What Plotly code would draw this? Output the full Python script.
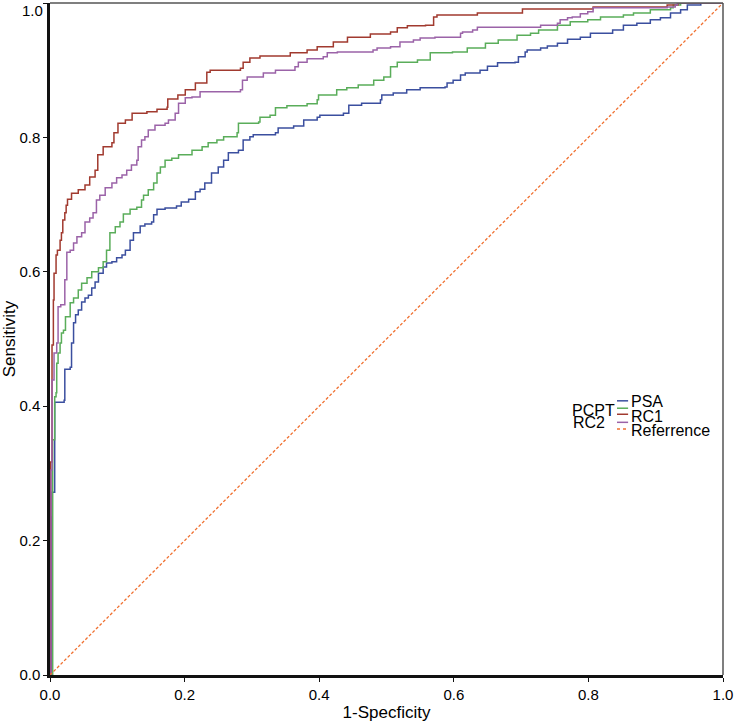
import plotly.graph_objects as go

# ---------------- data ----------------
psa_x = [0, 0.002, 0.003, 0.007, 0.021, 0.022, 0.030, 0.032, 0.035, 0.038, 0.042, 0.047, 0.052, 0.057,
         0.062, 0.067, 0.072, 0.079, 0.084, 0.092, 0.099, 0.107, 0.112, 0.119, 0.124, 0.134, 0.141,
         0.151, 0.154, 0.159, 0.171, 0.188, 0.195, 0.206, 0.216, 0.223, 0.230, 0.240, 0.250, 0.258,
         0.265, 0.280, 0.287, 0.297, 0.302, 0.335, 0.339, 0.362, 0.377, 0.397, 0.401, 0.436, 0.444,
         0.463, 0.491, 0.493, 0.510, 0.530, 0.550, 0.587, 0.590, 0.599, 0.610, 0.617, 0.639, 0.650,
         0.665, 0.691, 0.696, 0.706, 0.709, 0.729, 0.739, 0.754, 0.769, 0.788, 0.803, 0.836, 0.852,
         0.872, 0.892, 0.907, 0.922, 0.937, 0.947, 0.967, 1.0]
psa_y = [0, 0.235, 0.272, 0.406, 0.409, 0.455, 0.458, 0.494, 0.524, 0.536, 0.543, 0.555, 0.561, 0.565,
         0.576, 0.585, 0.598, 0.607, 0.613, 0.615, 0.621, 0.625, 0.632, 0.647, 0.658, 0.668, 0.671,
         0.674, 0.685, 0.693, 0.695, 0.698, 0.704, 0.708, 0.719, 0.723, 0.732, 0.747, 0.756, 0.766,
         0.777, 0.781, 0.796, 0.801, 0.804, 0.807, 0.814, 0.817, 0.826, 0.830, 0.833, 0.836, 0.848,
         0.851, 0.856, 0.863, 0.866, 0.871, 0.874, 0.875, 0.881, 0.885, 0.893, 0.896, 0.900, 0.906,
         0.911, 0.912, 0.920, 0.927, 0.930, 0.933, 0.936, 0.940, 0.946, 0.949, 0.955, 0.960, 0.967,
         0.970, 0.975, 0.978, 0.985, 0.990, 0.997, 1.0, 1.0]

pcpt_x = [0, 0.004, 0.007, 0.009, 0.010, 0.012, 0.015, 0.017, 0.020, 0.023, 0.030, 0.035, 0.042, 0.047,
          0.055, 0.062, 0.072, 0.079, 0.084, 0.089, 0.097, 0.104, 0.109, 0.119, 0.129, 0.136, 0.139,
          0.146, 0.154, 0.159, 0.164, 0.171, 0.181, 0.191, 0.211, 0.226, 0.235, 0.248, 0.258, 0.278,
          0.280, 0.310, 0.312, 0.327, 0.335, 0.352, 0.382, 0.397, 0.399, 0.426, 0.441, 0.458, 0.481,
          0.496, 0.506, 0.516, 0.546, 0.565, 0.598, 0.620, 0.647, 0.666, 0.694, 0.714, 0.726, 0.754,
          0.773, 0.799, 0.818, 0.852, 0.867, 0.892, 0.922, 0.926, 0.937, 1.0]
pcpt_y = [0, 0.350, 0.414, 0.420, 0.464, 0.479, 0.494, 0.509, 0.513, 0.533, 0.554, 0.561, 0.573, 0.583,
          0.591, 0.600, 0.606, 0.615, 0.632, 0.658, 0.667, 0.674, 0.686, 0.693, 0.696, 0.707, 0.714,
          0.722, 0.732, 0.747, 0.756, 0.766, 0.769, 0.774, 0.781, 0.786, 0.792, 0.796, 0.801, 0.807,
          0.821, 0.823, 0.830, 0.833, 0.844, 0.847, 0.850, 0.856, 0.863, 0.871, 0.874, 0.878, 0.885,
          0.890, 0.905, 0.912, 0.915, 0.926, 0.927, 0.933, 0.940, 0.945, 0.952, 0.955, 0.960, 0.967,
          0.972, 0.975, 0.979, 0.982, 0.985, 0.990, 0.993, 0.997, 1.0, 1.0]

rc1_x = [0, 0.001, 0.003, 0.005, 0.006, 0.009, 0.011, 0.015, 0.017, 0.019, 0.022, 0.024, 0.026, 0.032,
         0.042, 0.052, 0.059, 0.067, 0.071, 0.079, 0.092, 0.095, 0.101, 0.112, 0.122, 0.144, 0.159,
         0.174, 0.175, 0.190, 0.201, 0.216, 0.233, 0.238, 0.283, 0.287, 0.297, 0.312, 0.357, 0.382,
         0.397, 0.421, 0.442, 0.476, 0.506, 0.516, 0.531, 0.558, 0.570, 0.575, 0.635, 0.702, 0.807,
         0.917, 0.933, 1.0]
rc1_y = [0, 0.317, 0.491, 0.558, 0.598, 0.625, 0.632, 0.647, 0.658, 0.677, 0.688, 0.699, 0.708, 0.717,
         0.722, 0.729, 0.741, 0.751, 0.774, 0.786, 0.792, 0.807, 0.821, 0.826, 0.836, 0.838, 0.842,
         0.845, 0.857, 0.863, 0.871, 0.881, 0.897, 0.900, 0.903, 0.912, 0.918, 0.921, 0.926, 0.930,
         0.935, 0.942, 0.949, 0.954, 0.957, 0.963, 0.966, 0.967, 0.979, 0.982, 0.985, 0.991, 0.994,
         0.997, 1.0, 1.0]

rc2_x = [0, 0.0015, 0.003, 0.006, 0.010, 0.012, 0.016, 0.022, 0.025, 0.030, 0.035, 0.040, 0.047, 0.052,
         0.059, 0.064, 0.069, 0.074, 0.082, 0.092, 0.099, 0.107, 0.114, 0.121, 0.129, 0.131, 0.136,
         0.141, 0.146, 0.156, 0.171, 0.176, 0.186, 0.191, 0.201, 0.211, 0.223, 0.283, 0.286, 0.293,
         0.317, 0.335, 0.364, 0.369, 0.382, 0.406, 0.412, 0.427, 0.480, 0.486, 0.506, 0.520, 0.540,
         0.550, 0.572, 0.610, 0.613, 0.628, 0.635, 0.724, 0.729, 0.754, 0.758, 0.769, 0.776, 0.788,
         0.799, 0.807, 0.917, 0.929, 0.932, 1.0]
rc2_y = [0, 0.305, 0.439, 0.479, 0.494, 0.548, 0.551, 0.588, 0.629, 0.632, 0.643, 0.652, 0.658, 0.674,
         0.680, 0.688, 0.707, 0.714, 0.725, 0.732, 0.740, 0.744, 0.751, 0.759, 0.766, 0.786, 0.796,
         0.801, 0.811, 0.818, 0.821, 0.826, 0.836, 0.851, 0.859, 0.860, 0.868, 0.871, 0.885, 0.890,
         0.896, 0.900, 0.905, 0.912, 0.917, 0.920, 0.926, 0.927, 0.930, 0.933, 0.935, 0.942, 0.945,
         0.948, 0.949, 0.955, 0.957, 0.960, 0.964, 0.964, 0.967, 0.970, 0.975, 0.978, 0.979, 0.984,
         0.987, 0.993, 0.994, 0.997, 1.0, 1.0]

ref_x = [0, 1]
ref_y = [0, 1]

series_names = ["PSA", "PCPT", "RC1", "RC2", "Referrence"]
tick_vals = [0.0, 0.2, 0.4, 0.6, 0.8, 1.0]
x_tick_text = ["0.0", "0.2", "0.4", "0.6", "0.8", "1.0"]
y_tick_text = ["0.0", "0.2", "0.4", "0.6", "0.8", ""]   # top label drawn separately (kept inside page)
y_top_label = "1.0"

# ---------------- styles ----------------
COL = {"PSA": "#3b4f9f", "PCPT": "#5aad5a", "RC1": "#a13a2f",
       "RC2": "#9b63a8", "Referrence": "#f07030"}
FONT = "Liberation Sans, Arial, sans-serif"
TICKFONT = dict(family=FONT, size=15, color="#000")
TITLEFONT = dict(family=FONT, size=17, color="#000")

fig = go.Figure()
for name, xs, ys in [("PSA", psa_x, psa_y), ("PCPT", pcpt_x, pcpt_y),
                     ("RC1", rc1_x, rc1_y), ("RC2", rc2_x, rc2_y)]:
    fig.add_trace(go.Scatter(x=xs, y=ys, mode="lines", name=name, line_shape="hv",
                             line=dict(color=COL[name], width=1.5), showlegend=False,
                             hoverinfo="x+y+name"))
fig.add_trace(go.Scatter(x=ref_x, y=ref_y, mode="lines", name="Referrence",
                         line=dict(color=COL["Referrence"], width=1.3, dash="3px,2px"),
                         showlegend=False))

axis_common = dict(range=[0, 1], tickvals=tick_vals, showgrid=False, automargin=False,
                   zeroline=False, showline=True, linecolor="#111", linewidth=2.5,
                   ticks="outside", ticklen=4, tickwidth=1, tickcolor="#111",
                   tickfont=TICKFONT, layer="above traces")
fig.update_xaxes(**axis_common, ticktext=x_tick_text,
                 title=dict(text="1-Specficity", standoff=8, font=TITLEFONT))
fig.update_yaxes(**axis_common, ticktext=y_tick_text,
                 title=dict(text="Sensitivity", standoff=6, font=TITLEFONT))

fig.add_annotation(x=0, y=1, xref="paper", yref="paper", text=y_top_label, showarrow=False,
                   xanchor="right", yanchor="top", xshift=-5, yshift=3, font=TICKFONT)

# top / right frame lines (thinner, grey)
fig.add_shape(type="line", xref="paper", yref="paper", x0=0, x1=1, y0=1, y1=1,
              line=dict(color="#555", width=1.5))
fig.add_shape(type="line", xref="paper", yref="paper", x0=1, x1=1, y0=0, y1=1,
              line=dict(color="#555", width=1.5))

# custom legend (reproducing the reference's overlapping layout)
leg_lines = [("PSA", 0.408, "solid"), ("PCPT", 0.397, "solid"), ("RC1", 0.388, "solid"),
             ("RC2", 0.376, "solid"), ("Referrence", 0.366, "dot")]
for name, yy, dsh in leg_lines:
    fig.add_shape(type="line", xref="paper", yref="paper", x0=0.8425, x1=0.859, y0=yy, y1=yy,
                  line=dict(color=COL[name], width=1.5, dash=dsh))
leg_text = [("PSA", 0.861, 0.407, "left"), ("RC1", 0.861, 0.385, "left"),
            ("Referrence", 0.861, 0.364, "left"), ("PCPT", 0.8425, 0.394, "right"),
            ("RC2", 0.828, 0.376, "right")]
for txt, xx, yy, anc in leg_text:
    fig.add_annotation(x=xx, y=yy, xref="paper", yref="paper", text=txt, showarrow=False,
                       xanchor=anc, yanchor="middle",
                       font=dict(family=FONT, size=16, color="#000"))

fig.update_layout(width=737, height=722, margin=dict(l=50, r=14, t=3, b=47),
                  plot_bgcolor="white", paper_bgcolor="white", showlegend=False)

fig.write_html("out.html", config={"displayModeBar": False},
               post_script="document.body.style.margin='0px';document.body.style.overflow='hidden';")
